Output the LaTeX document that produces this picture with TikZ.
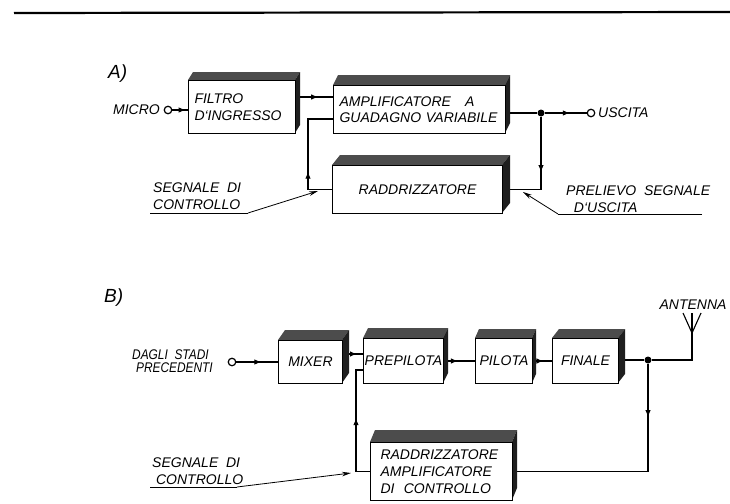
\documentclass[tikz,border=0pt]{standalone}
\usepackage{fontspec}
\setmainfont{Liberation Sans}
\usetikzlibrary{arrows.meta,decorations.markings,calc}
\pgfdeclarelayer{background}
\pgfsetlayers{background,main}
\tikzset{
  lbl/.style={font=\itshape\fontsize{14}{16.5}\selectfont, inner sep=0pt},
  biglbl/.style={font=\itshape\fontsize{19}{22}\selectfont, inner sep=0pt},
  conn/.style={line width=1.1pt},
  midarrow/.style={postaction={decorate},decoration={markings,mark=at position #1 with {\arrow{Latex[length=7pt,width=5.5pt]}}}},
  leader/.style={line width=0.8pt,-{Stealth[length=9pt,width=4.5pt]}},
  topface/.style={fill=black!70},
  sideface/.style={fill=black!88},
  frontbox/.style={draw, line width=1pt, fill=white, inner sep=0pt, anchor=north west, lbl},
  terminal/.style={circle, draw, line width=1.2pt, fill=white, minimum size=7.5pt, inner sep=0pt},
  junction/.style={circle, fill=black, minimum size=7pt, inner sep=0pt},
}
% [#1] node options, #2 name, #3 x1, #4 y1, #5 x2, #6 y2, #7 dx, #8 dy, #9 text
\newcommand\tdbox[9][]{%
  \fill[topface] (#3,#4) -- (#3+#7,#4-#8) -- (#5+#7,#4-#8) -- (#5,#4) -- cycle;
  \fill[sideface] (#5,#4) -- (#5+#7,#4-#8) -- (#5+#7,#6-#8) -- (#5,#6) -- cycle;
  \node[frontbox, minimum width={(#5-#3)*1pt}, minimum height={(#6-#4)*1pt}, #1] (#2) at (#3,#4) {#9};
}
\begin{document}
\begin{tikzpicture}[x=1pt,y=-1pt]
\useasboundingbox (0,0) rectangle (730,503);
\begin{pgfonlayer}{background}
  \fill[white] (0,0) rectangle (730,503);
\end{pgfonlayer}
\draw[line width=2.2pt] (14,13) -- (730,12);

% ---------------- A ----------------
\node[biglbl, anchor=west] (labA) at (108,74) {A)};
\tdbox[align=left, text width=95pt]{filtro}{188}{80}{295}{133}{5}{8}{FILTRO\\D`INGRESSO}
\tdbox[align=left, text width=160pt]{ampl}{333}{85}{505}{133}{5}{10}{AMPLIFICATORE\ \ \ A\\GUADAGNO VARIABILE}
\tdbox[align=center]{raddA}{332}{165}{502}{213}{8}{10}{RADDRIZZATORE}

\node[terminal] (micro) at (168,110) {};
\node[lbl, anchor=east] (microl) at (160,110) {MICRO};
\node[junction] (jA) at (541,113) {};
\node[terminal] (outA) at (591,113) {};
\node[lbl, anchor=west] (uscita) at (598,113) {USCITA};
\coordinate (a1) at (310,97);
\coordinate (fbA) at (308,119);

\node[lbl, anchor=west, align=left] (sdcA) at (153,196) {SEGNALE\ \ DI\\CONTROLLO};
\coordinate (ulA1) at (150,213);
\coordinate (ulA2) at (248,213);
\coordinate (tipA) at (318,191);
\draw[line width=0.8pt] (ulA1) -- (ulA2);
\draw[leader] (ulA2) -- (tipA);

\node[lbl, anchor=west, align=left] (prel) at (566,199) {PRELIEVO\ \ SEGNALE\\\ \ D`USCITA};
\coordinate (ulP1) at (558,214);
\coordinate (ulP2) at (702,214);
\coordinate (tipP) at (523,192);
\draw[line width=0.8pt] (ulP2) -- (ulP1);
\draw[leader] (ulP1) -- (tipP);

% ---------------- B ----------------
\node[biglbl, anchor=west] (labB) at (104,298) {B)};
\tdbox{mixer}{278}{340}{342}{383}{7}{10}{MIXER}
\tdbox{prepil}{363}{338}{443}{383}{5}{10}{PREPILOTA}
\tdbox{pilota}{475}{338}{532}{383}{4}{9}{PILOTA}
\tdbox{finale}{552}{338}{618}{383}{7}{9}{FINALE}
\tdbox[align=left, text width=122pt, font=\itshape\fontsize{14}{17}\selectfont]{raddB}{370}{442}{512}{500}{5}{12}{RADDRIZZATORE\\AMPLIFICATORE\\DI\ \ CONTROLLO}

\node[lbl, anchor=west, align=left, font=\itshape\fontsize{14}{13.5}\selectfont] (dagli) at (132,361) {\scalebox{0.85}[1]{DAGLI\ \ STADI}\\\ \scalebox{0.85}[1]{PRECEDENTI}};
\node[terminal] (inB) at (232,362) {};
\coordinate (mpB) at (350,354);
\node[junction] (jB) at (648,360) {};
\coordinate (anttop) at (692,313);
\coordinate (antapex) at (692,333);
\coordinate (antL) at (683,313);
\coordinate (antR) at (701,313);
\node[lbl, anchor=south] (antlbl) at (693,310) {ANTENNA};
\draw[conn] (antL) -- (antapex) -- (antR);
\coordinate (fbB) at (356,370);

\node[lbl, anchor=west, align=left] (sdcB) at (152,471) {SEGNALE\ \ DI\\\ CONTROLLO};
\coordinate (ulB1) at (150,487);
\coordinate (ulB2) at (237,487);
\coordinate (tipB) at (351,473);
\draw[line width=0.8pt] (ulB1) -- (ulB2);
\draw[leader] (ulB2) -- (tipB);

% ---------------- connectors ----------------
\begin{pgfonlayer}{background}
  \draw[conn, midarrow=0.6] (inB) -- (mixer.west |- inB);
  \draw[conn, midarrow=0.85] (micro) -- (filtro.west |- micro);
  \draw[conn, midarrow=0.6] (filtro.east |- a1) -- (ampl.west |- a1);
  \draw[conn, midarrow=0.35] (raddA.west) -| (fbA) -- (ampl.west |- fbA);
  \draw[conn] (ampl.east |- jA) -- (jA);
  \draw[conn, midarrow=0.6] (jA) -- (outA);
  \draw[conn, midarrow=0.5] (jA) |- (raddA.east);

  \draw[conn, midarrow=0.7] (mixer.east |- mpB) -- (prepil.west |- mpB);
  \draw[conn, midarrow=0.45] (prepil.east) -- (pilota.west);
  \draw[conn, midarrow=0.55] (pilota.east) -- (finale.west);
  \draw[conn] (finale.east |- jB) -- (jB);
  \draw[conn] (jB) -| (anttop);
  \draw[conn, midarrow=0.22] (jB) |- (raddB.east);
  \draw[conn, midarrow=0.55] (raddB.west) -| (fbB) -- (prepil.west |- fbB);
\end{pgfonlayer}
\end{tikzpicture}
\end{document}
